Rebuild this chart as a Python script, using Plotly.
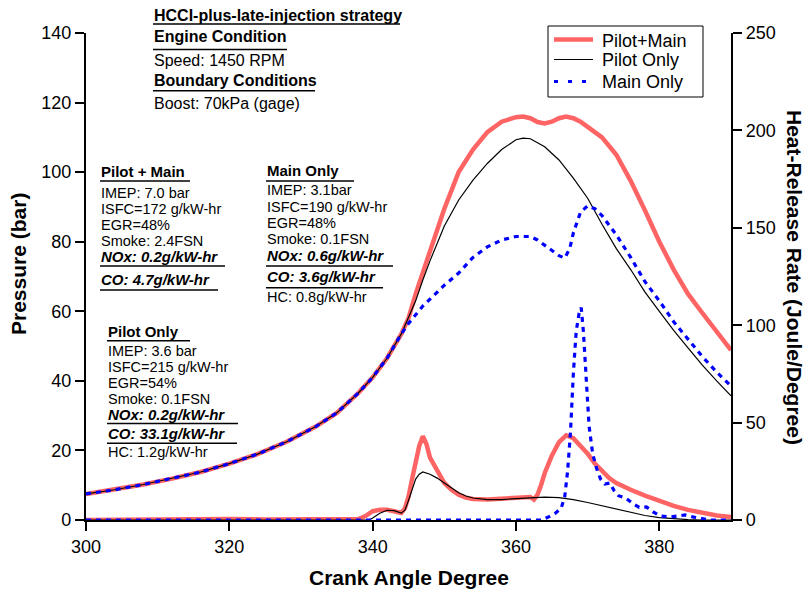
import plotly.graph_objects as go

# ---------------- data ----------------
# Cylinder pressure (bar) vs crank angle
crank_common = [300, 304, 308, 312, 316, 320, 324, 328, 332, 335, 338, 340, 342, 344]
press_common = [7.5, 8.7, 10.2, 11.9, 13.8, 16.2, 19.0, 22.5, 26.8, 30.8, 36.5, 41.0, 46.5, 53.5]

crank_pm_tail = [345, 346, 347, 348, 349, 350, 352, 354, 356, 358, 360, 361, 362, 363, 364, 365,
                 366, 367, 368, 369, 370, 372, 374, 376, 378, 380, 382, 384, 386, 388, 390]
press_pm_tail = [58.0, 65.0, 71.0, 78.0, 84.0, 89.5, 100.0, 106.5, 111.5, 114.5, 115.8, 116.0, 115.5,
                 114.4, 114.0, 114.5, 115.5, 116.0, 115.5, 114.5, 113.0, 110.0, 105.0, 97.5, 89.0,
                 80.0, 72.0, 65.0, 59.5, 54.0, 48.8]

crank_po_tail = [345, 346, 347, 348, 350, 352, 354, 356, 358, 360, 361, 362, 364, 366, 368, 370,
                 372, 374, 376, 378, 380, 382, 384, 386, 388, 390]
press_po_tail = [58.0, 63.0, 69.0, 74.5, 84.5, 92.0, 97.7, 102.5, 106.5, 109.3, 109.8, 109.6, 107.3,
                 103.5, 98.3, 92.5, 85.0, 78.0, 72.0, 65.5, 60.0, 54.5, 49.5, 44.5, 40.0, 35.7]

crank_mo_tail = [345, 346, 347, 348, 350, 352, 354, 356, 358, 360, 362, 363, 364, 365, 366, 366.8,
                 367.5, 368, 369, 370, 371, 372, 374, 376, 378, 380, 382, 384, 386, 388, 390]
press_mo_tail = [56.5, 59.0, 61.5, 63.5, 67.5, 71.0, 75.5, 78.5, 80.5, 81.5, 81.5, 80.5, 79.0, 77.5,
                 76.0, 75.3, 78.0, 82.5, 88.5, 90.3, 89.5, 87.5, 82.0, 75.5, 68.5, 63.0, 57.0, 52.0,
                 47.0, 42.5, 38.5]

# Heat-release rate (J/deg)
crank_hr_pm = [300, 310, 315, 320, 325, 330, 335, 338, 339, 340, 341, 342, 343, 344, 344.5, 345, 345.5,
               346, 346.5, 347, 347.5, 348, 349, 350, 351, 352, 353, 354, 356, 358, 360, 362, 362.5,
               363, 363.5, 364, 365, 366, 367, 368, 369, 370, 371, 372, 373, 374, 375, 376, 378,
               380, 382, 384, 386, 388, 390]
hr_pm = [0.0, 0.3, 0.8, 0.5, 0.3, 0.3, 0.8, 0.5, 2.0, 4.5, 5.3, 5.3, 4.5, 3.6, 6.0, 12.0, 21.0,
         30.0, 38.0, 43.0, 39.0, 32.0, 25.0, 19.0, 15.5, 13.0, 11.5, 10.8, 10.5, 10.8, 11.3, 11.8, 10.5,
         13.0, 18.0, 24.0, 33.0, 40.0, 43.5, 42.0, 38.0, 34.0, 29.0, 25.0, 21.5, 19.0, 17.2, 15.5, 12.5,
         9.8, 7.2, 5.2, 3.5, 2.3, 1.5]

crank_hr_po = [300, 339.5, 340, 341, 342, 343, 344, 344.5, 345, 345.5, 346, 346.5, 347, 348, 349, 350,
               351, 352, 353, 354, 356, 358, 360, 362, 364, 366, 368, 370, 372, 374, 376, 378, 380,
               382, 384, 386, 390]
hr_po = [0.0, 0.0, 1.0, 3.5, 5.0, 4.8, 3.5, 5.0, 10.0, 16.0, 21.0, 23.5, 24.7, 23.5, 21.5, 19.0,
         16.5, 14.0, 12.3, 11.3, 10.5, 10.5, 11.0, 11.3, 11.7, 11.5, 10.5, 9.0, 7.3, 5.5, 3.8, 2.3, 1.2,
         0.6, 0.2, 0.0, 0.0]

crank_hr_mo = [300, 363.5, 364.5, 365.5, 366.3, 366.8, 367.2, 367.6, 368, 368.4, 368.8, 369.1, 369.4,
               369.8, 370.2, 370.7, 371.2, 371.8, 372.4, 373.1, 373.7, 374.3, 375.3, 376.3, 377.2,
               378.2, 379.2, 380.2, 381.5, 382.5, 383.6, 384.8, 386, 387, 390]
hr_mo = [0.0, 0.0, 1.5, 3.5, 6.0, 12.0, 25.0, 45.0, 75.0, 97.0, 106.0, 109.0, 97.0, 72.0, 48.0, 34.0,
         27.0, 21.0, 18.5, 19.0, 15.0, 12.5, 11.3, 8.5, 6.5, 6.7, 4.0, 2.0, 1.5, 2.0, 2.6, 1.5, 0.5,
         0.0, 0.0]

series_names = ["Pilot+Main", "Pilot Only", "Main Only"]
x_ticks = [300, 320, 340, 360, 380]
y_ticks = [0, 20, 40, 60, 80, 100, 120, 140]
y2_ticks = [0, 50, 100, 150, 200, 250]

# text blocks: (text, x_px, ycenter_px, size, bold, italic)
top_block = [
    ("HCCI-plus-late-injection strategy", 154, 15.5, 16, True, False),
    ("Engine Condition", 154, 36, 16, True, False),
    ("Speed: 1450 RPM", 154, 60.5, 16, False, False),
    ("Boundary Conditions", 154, 80.5, 16, True, False),
    ("Boost: 70kPa (gage)", 154, 103, 16, False, False),
]
pm_block = [
    ("Pilot + Main", 101, 172, 15, True, False),
    ("IMEP: 7.0 bar", 101, 192.5, 14.5, False, False),
    ("ISFC=172 g/kW-hr", 101, 208.5, 14.5, False, False),
    ("EGR=48%", 101, 224.5, 14.5, False, False),
    ("Smoke: 2.4FSN", 101, 240.5, 14.5, False, False),
    ("NOx: 0.2g/kW-hr", 101, 256.5, 15, True, True),
    ("CO: 4.7g/kW-hr", 101, 279, 15, True, True),
]
mo_block = [
    ("Main Only", 267, 170.3, 15, True, False),
    ("IMEP: 3.1bar", 267, 190, 14.5, False, False),
    ("ISFC=190 g/kW-hr", 267, 206.5, 14.5, False, False),
    ("EGR=48%", 267, 223, 14.5, False, False),
    ("Smoke: 0.1FSN", 267, 239, 14.5, False, False),
    ("NOx: 0.6g/kW-hr", 267, 255.5, 15, True, True),
    ("CO: 3.6g/kW-hr", 267, 276, 15, True, True),
    ("HC: 0.8g/kW-hr", 267, 297, 14.5, False, False),
]
po_block = [
    ("Pilot Only", 108, 331.3, 15, True, False),
    ("IMEP: 3.6 bar", 108, 351.2, 14.5, False, False),
    ("ISFC=215 g/kW-hr", 108, 367, 14.5, False, False),
    ("EGR=54%", 108, 383, 14.5, False, False),
    ("Smoke: 0.1FSN", 108, 399, 14.5, False, False),
    ("NOx: 0.2g/kW-hr", 108, 414.5, 15, True, True),
    ("CO: 33.1g/kW-hr", 108, 433, 15, True, True),
    ("HC: 1.2g/kW-hr", 108, 452, 14.5, False, False),
]
# underline rules: (x0_px, x1_px, y_px)
rules = [
    (153, 400, 24), (153, 287, 49.5), (153, 315, 90.7),
    (100, 190, 181), (100, 225, 266), (100, 218, 290),
    (266, 354, 181), (266, 393, 266), (266, 383, 287.7),
    (107, 190, 340.7), (107, 238, 423.5), (107, 237, 443.3),
]

# ---------------- layout geometry ----------------
W, H = 809, 590
L, R, T, B = 86, 731, 33, 520
FONT = "Liberation Sans, Arial, sans-serif"


def px(xp):
    return (xp - L) / (R - L)


def py(yp):
    return (B - yp) / (B - T)


RED = "#FF6464"
BLACK = "#000000"
BLUE = "#0000FF"
styles = [dict(color=RED, width=4.5),
          dict(color=BLACK, width=1.2),
          dict(color=BLUE, width=3.2, dash="5px,5px")]

fig = go.Figure()
press_x = [crank_common + crank_pm_tail, crank_common + crank_po_tail, crank_common + crank_mo_tail]
press_y = [press_common + press_pm_tail, press_common + press_po_tail, press_common + press_mo_tail]
hr_x = [crank_hr_pm, crank_hr_po, crank_hr_mo]
hr_y = [hr_pm, hr_po, hr_mo]

for i, name in enumerate(series_names):
    fig.add_trace(go.Scatter(x=press_x[i], y=press_y[i], mode="lines", name=name,
                             line=styles[i], legendgroup=name, showlegend=False, yaxis="y"))
for i, name in enumerate(series_names):
    fig.add_trace(go.Scatter(x=hr_x[i], y=hr_y[i], mode="lines", name=name,
                             line=styles[i], legendgroup=name, showlegend=False, yaxis="y2"))

annotations = []
for block in (top_block, pm_block, mo_block, po_block):
    for text, xp, yp, size, bold, italic in block:
        t = text
        if italic:
            t = "<i>" + t + "</i>"
        if bold:
            t = "<b>" + t + "</b>"
        annotations.append(dict(text=t, x=px(xp - 1), y=py(yp), xref="paper", yref="paper",
                                xanchor="left", yanchor="middle", showarrow=False,
                                font=dict(family=FONT, size=size, color="black"), borderpad=0))

# axis titles
annotations.append(dict(text="<b>Pressure (bar)</b>", x=px(18), y=py(264), xref="paper", yref="paper",
                        textangle=-90, showarrow=False, xanchor="center", yanchor="middle",
                        font=dict(family=FONT, size=21, color="black")))
annotations.append(dict(text="<b>Heat-Release Rate (Joule/Degree)</b>", x=px(795), y=py(277),
                        xref="paper", yref="paper", textangle=90, showarrow=False,
                        xanchor="center", yanchor="middle",
                        font=dict(family=FONT, size=21, color="black")))
annotations.append(dict(text="<b>Crank Angle Degree</b>", x=px(408.5), y=py(577), xref="paper",
                        yref="paper", showarrow=False, xanchor="center", yanchor="middle",
                        font=dict(family=FONT, size=21, color="black")))

shapes = [dict(type="line", xref="paper", yref="paper", x0=px(a), x1=px(b), y0=py(y), y1=py(y),
               line=dict(color="black", width=1.5)) for a, b, y in rules]

# legend (box, sample lines, labels)
LEG_BOX = (548, 703, 26, 97)
leg_rows = [39.5, 59.5, 81.5]
leg_text_y = [41, 60, 81.5]
shapes.append(dict(type="rect", xref="paper", yref="paper", x0=px(LEG_BOX[0]), x1=px(LEG_BOX[1]),
                   y0=py(LEG_BOX[2]), y1=py(LEG_BOX[3]), line=dict(color="black", width=1),
                   fillcolor="white", layer="above"))
for i, name in enumerate(series_names):
    st = dict(styles[i])
    if i == 2:
        st = dict(color=BLUE, width=3.2, dash="4px,10px")
    shapes.append(dict(type="line", xref="paper", yref="paper", x0=px(554), x1=px(593),
                       y0=py(leg_rows[i]), y1=py(leg_rows[i]), line=st, layer="above"))
    annotations.append(dict(text=name, x=px(601), y=py(leg_text_y[i]), xref="paper", yref="paper",
                            xanchor="left", yanchor="middle", showarrow=False, borderpad=0,
                            font=dict(family=FONT, size=18, color="black")))

axis_common = dict(showline=True, linecolor="black", linewidth=2.2, ticks="outside", ticklen=9,
                   tickwidth=2.2, tickcolor="black", showgrid=False, zeroline=False,
                   tickfont=dict(family=FONT, size=18, color="black"))

fig.update_layout(
    width=W, height=H,
    margin=dict(l=L, r=W - R, t=T, b=H - B, pad=0),
    paper_bgcolor="white", plot_bgcolor="white",
    font=dict(family=FONT, color="black"),
    xaxis=dict(range=[300, 390], tickvals=x_ticks, **axis_common),
    yaxis=dict(range=[0, 140], tickvals=y_ticks, **axis_common),
    yaxis2=dict(range=[0, 250], tickvals=y2_ticks, overlaying="y", side="right", anchor="x",
                **axis_common),
    annotations=annotations,
    shapes=shapes,
    showlegend=False,
)

fig.write_html("out.html")
